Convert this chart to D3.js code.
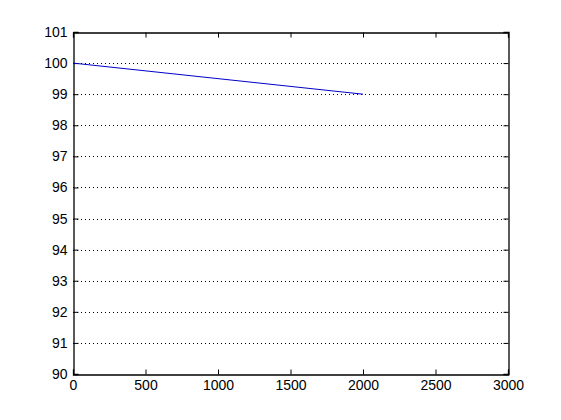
<!DOCTYPE html>
<html><head><meta charset="utf-8">
<script src="https://cdn.jsdelivr.net/npm/d3@7"></script>
<style>body{margin:0;background:#fff}svg{display:block}</style>
</head><body>
<script>
const xValues = [0, 2000];
const yValues = [100, 99];
const xTicks = [0, 500, 1000, 1500, 2000, 2500, 3000];
const yTicks = [90, 91, 92, 93, 94, 95, 96, 97, 98, 99, 100, 101];

const W = 561, H = 420;
const m = {left: 73, right: 53, top: 32, bottom: 46};
const svg = d3.select("body").append("svg").attr("width", W).attr("height", H);
const x = d3.scaleLinear().domain([0, 3000]).range([m.left, W - m.right]);
const y = d3.scaleLinear().domain([90, 101]).range([H - m.bottom, m.top]);

// grid
svg.append("g").selectAll("line").data(yTicks.slice(1, -1)).join("line")
  .attr("x1", x(0)).attr("x2", x(3000))
  .attr("y1", d => Math.round(y(d)) + 0.5).attr("y2", d => Math.round(y(d)) + 0.5)
  .attr("stroke", "#000").attr("stroke-dasharray", "1,3").attr("shape-rendering", "crispEdges");

const font = "Liberation Sans, Arial, sans-serif";
const tl = 5;
// bottom axis
const gx = svg.append("g").attr("transform", `translate(0,${Math.round(y(90)) + 0.5})`)
  .call(d3.axisBottom(x).tickValues(xTicks).tickSize(-tl).tickPadding(8).tickFormat(d3.format("d")));
// top axis
const gt = svg.append("g").attr("transform", `translate(0,${Math.round(y(101)) + 0.5})`)
  .call(d3.axisTop(x).tickValues(xTicks).tickSize(-tl).tickFormat(""));
// left axis
const gy = svg.append("g").attr("transform", `translate(${Math.round(x(0)) + 0.5},0)`)
  .call(d3.axisLeft(y).tickValues(yTicks).tickSize(-tl).tickPadding(6).tickFormat(d3.format("d")));
// right axis
const gr = svg.append("g").attr("transform", `translate(${Math.round(x(3000)) + 0.5},0)`)
  .call(d3.axisRight(y).tickValues(yTicks).tickSize(-tl).tickFormat(""));

[gx, gt, gy, gr].forEach(g => {
  g.select(".domain").attr("stroke", "#000").attr("stroke-width", 1.3);
  g.selectAll(".tick line").attr("stroke", "#000");
  g.selectAll("text").attr("fill", "#000").style("font-family", font).style("font-size", "14px");
});
gx.selectAll(".tick text").attr("dy", "0.71em").attr("y", 6);

// line
svg.append("path")
  .datum(xValues.map((v, i) => [v, yValues[i]]))
  .attr("fill", "none").attr("stroke", "#0000c8").attr("stroke-width", 1)
  .attr("d", d3.line().x(d => x(d[0])).y(d => y(d[1])));
</script>
</body></html>
